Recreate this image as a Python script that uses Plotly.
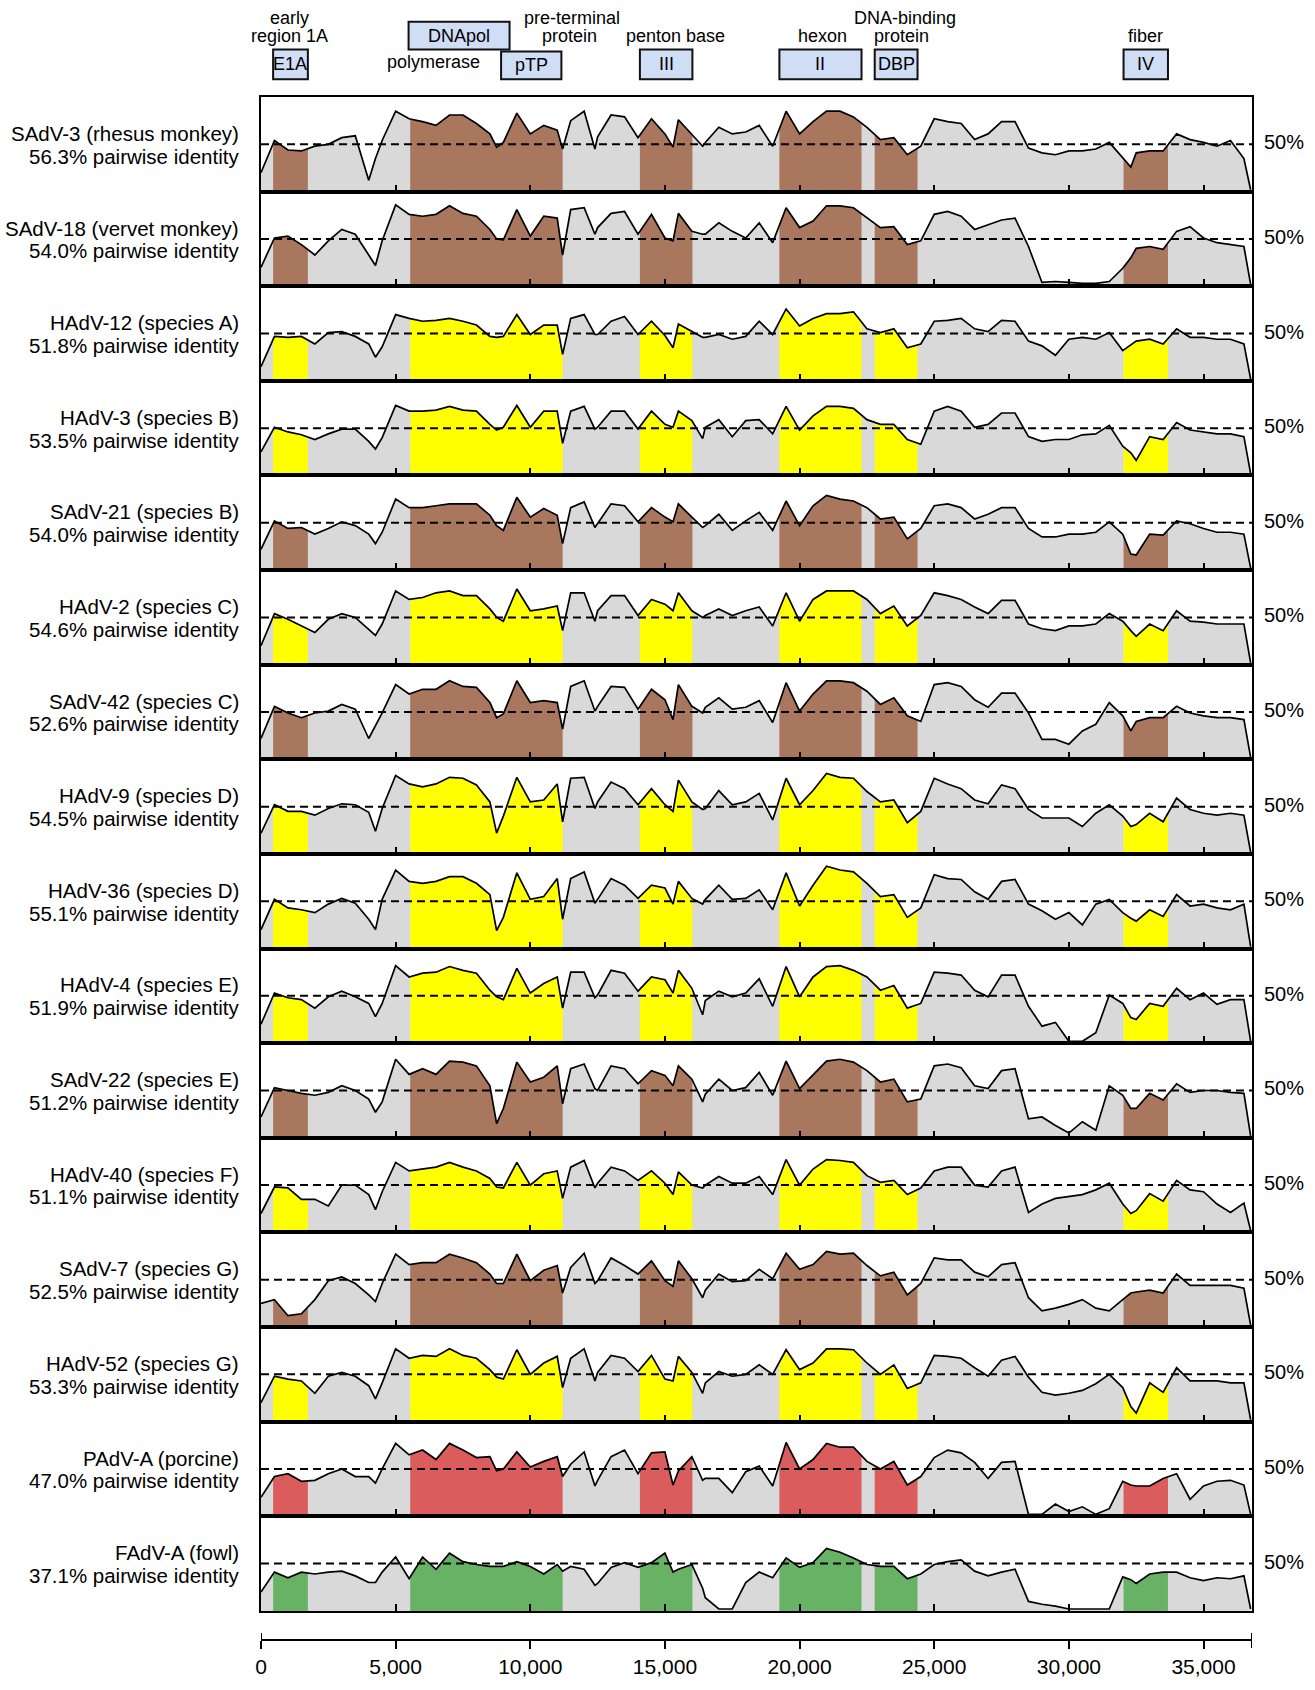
import numpy as np
import plotly.graph_objects as go

# ---------------- data ----------------
grid_positions = list(range(0, 37000, 500)) + [36750]        # genome position (bp)
extra_positions = [4250, 8750, 11200, 12400, 15300, 16400, 32300]  # extra readings at sharp dips

names = ["SAdV-3 (rhesus monkey)", "SAdV-18 (vervet monkey)", "HAdV-12 (species A)",
         "HAdV-3 (species B)", "SAdV-21 (species B)", "HAdV-2 (species C)",
         "SAdV-42 (species C)", "HAdV-9 (species D)", "HAdV-36 (species D)",
         "HAdV-4 (species E)", "SAdV-22 (species E)", "HAdV-40 (species F)",
         "SAdV-7 (species G)", "HAdV-52 (species G)", "PAdV-A (porcine)", "FAdV-A (fowl)"]
identity = ["56.3%", "54.0%", "51.8%", "53.5%", "54.0%", "54.6%", "52.6%", "54.5%",
            "55.1%", "51.9%", "51.2%", "51.1%", "52.5%", "53.3%", "47.0%", "37.1%"]
host = ["simian", "simian", "human", "human", "simian", "human", "simian", "human",
        "human", "human", "simian", "human", "simian", "human", "porcine", "fowl"]

# pairwise identity (%) on the 500-bp grid
sadv3 = [20,54,44,43,48,50,57,59,12,54,85,77,74,70,81,81,72,61,52,83,61,70,65,75,85,58,81,79,57,77,61,76,61,52,68,61,63,70,48,85,61,74,85,85,79,68,55,57,39,48,77,74,72,55,61,74,74,46,41,39,43,43,45,52,35,41,43,43,61,55,52,48,54,35,2]
sadv18 = [20,51,53,44,33,48,60,55,33,48,86,76,74,76,85,77,74,60,49,81,53,74,72,81,83,62,77,79,55,76,51,77,58,55,67,58,51,67,46,83,62,69,85,85,83,72,62,63,44,48,76,79,74,60,65,70,72,42,4,5,4,3,3,5,19,40,42,39,58,63,51,46,44,42,2]
hadv12 = [15,47,46,47,39,51,52,47,39,36,70,66,63,64,66,63,59,47,47,70,49,59,59,66,70,49,63,68,49,63,48,60,52,46,49,44,47,63,49,76,58,66,71,71,73,55,51,55,35,39,63,64,66,55,52,64,63,42,37,27,44,46,44,51,32,42,44,39,55,46,46,44,44,39,2]
hadv3 = [25,51,46,43,38,44,49,49,36,40,74,68,68,69,73,69,68,54,51,74,51,68,68,68,73,51,68,68,49,68,54,68,58,51,59,41,58,59,44,73,48,63,73,73,71,59,54,54,38,33,68,73,68,51,54,66,66,41,36,38,38,43,44,53,31,16,41,38,56,48,46,44,44,41,2]
sadv21 = [22,52,44,45,38,44,51,47,38,40,75,66,66,68,70,70,70,58,42,77,56,65,58,66,72,49,70,68,51,66,56,70,56,47,59,42,52,61,42,73,47,68,79,75,73,66,54,56,33,44,68,70,66,54,59,66,66,44,35,35,38,38,40,51,38,16,38,37,52,49,44,40,40,38,2]
hadv2 = [20,54,48,41,34,48,54,50,38,43,78,69,71,76,78,73,73,59,46,80,57,59,62,76,76,57,73,73,52,69,64,76,57,52,59,52,57,61,41,76,46,69,78,78,78,69,54,62,41,52,76,73,69,61,54,68,68,43,38,36,41,41,43,54,46,30,43,36,57,46,45,43,43,43,2]
sadv42 = [22,56,49,44,49,51,58,53,22,49,79,69,74,74,83,77,76,60,48,83,60,62,60,77,83,56,77,76,53,74,63,79,56,55,65,53,55,62,39,81,51,69,83,83,81,72,58,65,46,40,79,81,77,63,55,70,70,49,21,21,16,30,37,60,46,40,44,44,56,49,46,44,44,42,2]
hadv9 = [22,52,45,45,41,48,53,52,44,48,83,74,71,74,81,80,73,55,40,81,55,57,74,80,81,55,76,69,52,69,52,78,55,48,67,52,55,64,36,80,52,67,85,81,80,66,55,57,33,45,80,74,69,57,53,73,69,47,38,38,38,29,43,52,40,31,43,34,59,47,43,41,43,41,2]
hadv36 = [20,52,43,41,38,47,53,48,31,52,83,71,69,71,76,76,69,57,33,80,52,55,74,74,81,52,74,67,53,67,64,71,53,52,67,52,53,62,41,80,45,67,87,83,81,69,55,57,33,43,78,74,73,60,52,71,73,47,40,31,38,25,47,52,38,29,41,34,57,45,47,43,41,47,2]
hadv4 = [20,53,48,46,37,49,55,49,42,42,82,70,74,75,81,77,74,56,46,79,53,63,70,75,75,51,77,74,55,70,67,77,58,45,55,49,53,68,39,81,49,70,81,82,77,70,56,61,37,42,75,74,72,56,49,72,72,39,18,22,2,2,11,51,42,25,42,39,58,46,53,41,46,46,2]
sadv22 = [22,53,50,47,45,48,55,50,41,38,83,67,73,67,81,80,76,55,31,80,59,64,76,73,78,50,76,73,57,71,66,76,62,46,62,50,53,69,45,81,52,67,81,83,80,71,59,62,38,41,76,78,74,55,52,71,73,20,22,13,5,17,8,55,45,31,47,40,57,48,50,50,48,47,2]
hadv40 = [20,48,47,35,35,28,50,50,40,43,74,65,67,69,74,69,65,57,47,74,50,62,65,69,76,52,69,65,55,65,52,64,50,50,59,52,52,59,40,77,50,67,77,76,74,60,53,55,40,47,65,69,69,50,48,65,69,21,30,36,38,40,45,52,30,23,41,33,55,45,43,30,21,31,2]
sadv7 = [25,29,12,14,29,49,53,46,34,46,77,66,68,68,77,73,68,56,46,77,49,60,65,63,78,49,73,65,56,70,49,70,51,39,56,48,49,61,51,78,61,66,80,77,78,65,54,58,34,46,73,71,71,58,53,66,68,31,17,20,24,29,20,17,29,37,39,36,56,44,44,44,44,41,2]
hadv52 = [20,48,45,43,30,48,52,48,38,41,77,67,70,69,77,70,67,55,45,76,50,62,69,67,77,52,70,67,53,70,45,69,52,41,53,48,50,60,50,76,55,62,77,77,76,62,50,60,35,41,70,69,67,57,48,65,69,47,31,28,30,33,40,50,36,9,41,31,57,43,43,43,41,41,2]
padva = [20,42,45,37,38,45,50,42,42,50,77,65,70,60,77,70,62,63,50,68,52,58,63,55,68,38,63,70,45,67,68,48,63,40,40,25,47,53,32,78,50,60,77,73,73,58,50,58,33,42,62,70,67,57,40,57,58,2,2,13,5,10,2,8,37,32,32,40,45,18,32,37,38,33,2]
fadva = [20,41,35,41,39,41,42,37,30,41,57,34,57,44,61,52,49,47,47,52,47,39,49,47,44,29,46,51,46,51,61,44,49,14,2,2,30,41,35,56,46,51,66,62,56,49,47,47,34,39,49,52,54,42,37,41,44,10,7,5,2,2,2,2,36,29,39,41,41,35,32,35,34,37,2]

# pairwise identity (%) at the extra positions
sadv3_x = [35, 47, 45, 45, 47, 48, 26]
sadv18_x = [22, 50, 33, 55, 48, 55, 30]
hadv12_x = [25, 46, 28, 49, 35, 46, 38]
hadv3_x = [28, 48, 34, 49, 51, 39, 24]
sadv21_x = [28, 47, 28, 45, 51, 45, 17]
hadv2_x = [31, 50, 36, 46, 57, 50, 36]
sadv42_x = [35, 44, 32, 51, 42, 49, 30]
hadv9_x = [24, 22, 34, 48, 45, 47, 29]
hadv36_x = [20, 19, 31, 48, 47, 47, 32]
hadv4_x = [28, 49, 37, 48, 53, 30, 27]
sadv22_x = [27, 15, 36, 52, 55, 38, 31]
hadv40_x = [24, 48, 36, 47, 40, 47, 20]
sadv7_x = [27, 46, 36, 46, 43, 31, 36]
hadv52_x = [24, 47, 36, 43, 43, 30, 16]
padva_x = [35, 48, 42, 32, 33, 38, 33]
fadva_x = [30, 47, 42, 27, 41, 24, 33]

series = [sadv3, sadv18, hadv12, hadv3, sadv21, hadv2, sadv42, hadv9,
          hadv36, hadv4, sadv22, hadv40, sadv7, hadv52, padva, fadva]
series_extra = [sadv3_x, sadv18_x, hadv12_x, hadv3_x, sadv21_x, hadv2_x, sadv42_x, hadv9_x,
                hadv36_x, hadv4_x, sadv22_x, hadv40_x, sadv7_x, hadv52_x, padva_x, fadva_x]

gene_labels = ["E1A", "DNApol/pTP", "III", "II", "DBP", "IV"]
gene_start = [450, 5540, 14070, 19250, 22790, 32030]
gene_end = [1740, 11200, 16020, 22300, 24380, 33680]

tick_vals = [0, 5000, 10000, 15000, 20000, 25000, 30000, 35000]

# ---------------- style / layout ----------------
host_color = {"simian": "#A9765E", "human": "#FFFF00", "porcine": "#DB5C5C", "fowl": "#68B266"}
GRAY = "#D9D9D9"
FONT = "Liberation Sans, Arial, Helvetica, sans-serif"
W, H = 1315, 1690
ML, MR, MT, MB = 261, 63, 97, 35
PH = H - MT - MB
PANEL = 95.6
XMAX = 36800

def py(p):                 # pixel y -> paper y
    return (H - MB - p) / PH

fig = go.Figure()
layout = dict(width=W, height=H, margin=dict(l=ML, r=MR, t=MT, b=MB),
              paper_bgcolor="white", plot_bgcolor="white", showlegend=False,
              font=dict(family=FONT, color="black"))
shapes, annotations = [], []

for i, (gvals, xvals) in enumerate(zip(series, series_extra)):
    merged = sorted(zip(grid_positions + extra_positions, gvals + xvals))
    xs_all = [p for p, _ in merged]
    vals = [q for _, q in merged]
    pos = np.array(xs_all, dtype=float)
    v = np.array(vals, dtype=float)
    k = i + 1
    xa, ya = ("x", "y") if k == 1 else (f"x{k}", f"y{k}")
    top = MT + PANEL * i
    bot = MT + PANEL * (i + 1)
    col = host_color[host[i]]
    fig.add_trace(go.Scatter(x=xs_all, y=vals, mode="lines", fill="tozeroy",
                             fillcolor=GRAY, line=dict(width=0), xaxis=xa, yaxis=ya,
                             hoverinfo="skip"))
    for s, e in zip(gene_start, gene_end):
        inside = [p for p in xs_all if s < p < e]
        xs = [s] + inside + [e]
        ys = list(np.interp(xs, pos, v))
        fig.add_trace(go.Scatter(x=xs, y=ys, mode="lines", fill="tozeroy",
                                 fillcolor=col, line=dict(width=0), xaxis=xa, yaxis=ya,
                                 hoverinfo="skip"))
    fig.add_trace(go.Scatter(x=xs_all, y=vals, mode="lines",
                             line=dict(color="black", width=1.7), xaxis=xa, yaxis=ya,
                             hoverinfo="skip"))
    axk = "" if k == 1 else str(k)
    layout[f"xaxis{axk}"] = dict(domain=[0, 1], range=[0, XMAX], anchor=ya,
                                 showline=True, mirror=True, linecolor="black", linewidth=2,
                                 ticks="inside", ticklen=7, tickwidth=2, tickcolor="black",
                                 tickvals=tick_vals[1:], showticklabels=False,
                                 showgrid=False, zeroline=False)
    layout[f"yaxis{axk}"] = dict(domain=[py(bot), py(top)], range=[0, 100], anchor=xa,
                                 showline=True, mirror=True, linecolor="black", linewidth=2,
                                 ticks="", showticklabels=False, showgrid=False, zeroline=False)
    shapes.append(dict(type="line", xref=f"{xa} domain", x0=0, x1=1, yref=ya, y0=50, y1=50,
                       line=dict(color="black", width=2, dash="8px,5px"), layer="above"))
    mid = (top + bot) / 2
    for txt, dy in ((names[i], -11), (f"{identity[i]} pairwise identity", 12)):
        annotations.append(dict(xref="paper", x=0, xshift=-20, xanchor="right",
                                yref="paper", y=py(mid + dy), yanchor="middle",
                                text=txt, showarrow=False, align="right",
                                font=dict(size=20.5, family=FONT, color="black")))
    annotations.append(dict(xref="paper", x=1, xshift=10, xanchor="left",
                            yref=ya, y=50, yshift=2, yanchor="middle", text="50%",
                            showarrow=False, font=dict(size=20, family=FONT, color="black")))

# bottom scale axis
fig.add_trace(go.Scatter(x=[0], y=[0], mode="markers", marker=dict(opacity=0),
                         xaxis="x17", yaxis="y17", hoverinfo="skip"))
layout["xaxis17"] = dict(domain=[0, 1], range=[0, XMAX], anchor="y17",
                         showline=True, linecolor="black", linewidth=2,
                         ticks="outside", ticklen=8, tickwidth=2, tickcolor="black",
                         tickvals=tick_vals, tickformat=",d", showgrid=False, zeroline=False,
                         tickfont=dict(size=21, family=FONT, color="black"))
layout["yaxis17"] = dict(domain=[0, 0.001], range=[0, 1], anchor="x17", visible=False)
for xe in (0, XMAX):
    shapes.append(dict(type="line", xref="x17", x0=xe, x1=xe, yref="paper",
                       y0=py(1664), y1=py(1649), line=dict(color="black", width=2)))

# gene boxes at the top
boxes = [("E1A", 450, 1740, 49, 79), ("DNApol", 5480, 9230, 21, 49),
         ("pTP", 8915, 11155, 51, 79), ("III", 14070, 16020, 49, 79),
         ("II", 19250, 22300, 49, 79), ("DBP", 22790, 24380, 49, 79),
         ("IV", 32030, 33680, 49, 79)]
for lab, x0, x1, y0, y1 in boxes:
    shapes.append(dict(type="rect", xref="x", yref="paper", x0=x0, x1=x1,
                       y0=py(y1), y1=py(y0), fillcolor="#CFDDF5",
                       line=dict(color="#111111", width=2), layer="above"))
    annotations.append(dict(xref="x", x=(x0 + x1) / 2, yref="paper", y=py((y0 + y1) / 2),
                            text=lab, showarrow=False, xanchor="center", yanchor="middle",
                            font=dict(size=18, family=FONT, color="black")))
top_texts = [("early", 1060, 17), ("region 1A", 1060, 35), ("polymerase", 6400, 62),
             ("pre-terminal", 11535, 17), ("protein", 11450, 35), ("penton base", 15380, 35),
             ("hexon", 20835, 35), ("DNA-binding", 23905, 17), ("protein", 23795, 35),
             ("fiber", 32855, 35)]
for t, xx, yy in top_texts:
    annotations.append(dict(xref="x", x=xx, yref="paper", y=py(yy), text=t,
                            showarrow=False, xanchor="center", yanchor="middle",
                            font=dict(size=18, family=FONT, color="black")))

layout["shapes"] = shapes
layout["annotations"] = annotations
fig.update_layout(**layout)
fig.write_html("out.html", config={"displayModeBar": False},
               post_script="document.body.style.margin='0px';"
                           "document.body.style.padding='0px';"
                           "document.body.style.overflow='hidden';")
